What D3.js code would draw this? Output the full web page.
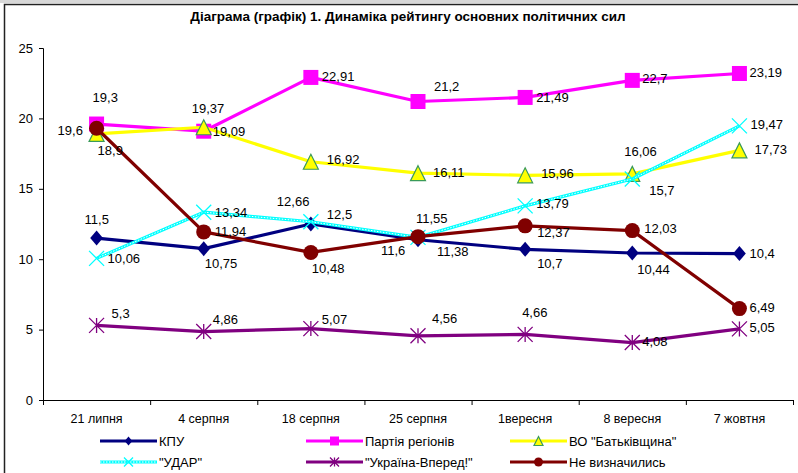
<!DOCTYPE html>
<html lang="uk">
<head>
<meta charset="utf-8">
<script src="https://d3js.org/d3.v7.min.js"></script>
<style>
  body { margin: 0; background: #fff; }
  text { font-family: "Liberation Sans", Arial, sans-serif; fill: #000; }
</style>
</head>
<body>
<div id="chart"></div>
<script>
// categories (poll dates)
var categories = ["21 липня", "4 серпня", "18 серпня", "25 серпня", "1вересня", "8 вересня", "7 жовтня"];

// series values, %
var kpu       = [11.5, 10.75, 12.5, 11.38, 10.7, 10.44, 10.4];
var regions   = [19.6, 19.09, 22.91, 21.2, 21.49, 22.7, 23.19];
var batk      = [18.9, 19.37, 16.92, 16.11, 15.96, 16.06, 17.73];
var udar      = [10.06, 13.34, 12.66, 11.55, 13.79, 15.7, 19.47];
var vpered    = [5.3, 4.86, 5.07, 4.56, 4.66, 4.08, 5.05];
var undecided = [19.3, 11.94, 10.48, 11.6, 12.37, 12.03, 6.49];

var seriesNames = ["КПУ", "Партія регіонів", "ВО \"Батьківщина\"", "\"УДАР\"", "\"Україна-Вперед!\"", "Не визначились"];
var yTicks = [0, 5, 10, 15, 20, 25];

// label placement (offset from point, px) -- hand adjusted like in the original
var labelOffsets = [
  [[-12,-19],[1,15],[16,-10],[19,12],[12,14],[5,16],[10,0]],
  [[-39,6],[9,0],[11,-1],[16,-15],[11,0],[10,-2],[10,-1]],
  [[1,17],[-12,-19],[16,-2],[15,-1],[16,-2],[-8,-22],[15,-1]],
  [[11,0],[11,0],[-34,-20],[-2,-19],[11,-2],[17,12],[11,-1]],
  [[15,-12],[9,-12],[11,-9],[14,-17],[-3,-22],[10,-1],[10,-1]],
  [[-4,-31],[11,0],[1,16],[-37,14],[12,7],[12,-2],[10,-1]]
];

var styles = [
  {color: "#000080", marker: "diamond"},
  {color: "#ff00ff", marker: "square"},
  {color: "#ffff00", marker: "triangle"},
  {color: "#00ffff", marker: "cross", dotted: true},
  {color: "#800080", marker: "star"},
  {color: "#800000", marker: "circle"}
];

var allValues = [kpu, regions, batk, udar, vpered, undecided];
var data = seriesNames.map(function(n, i) {
  return {name: n, values: allValues[i], style: styles[i], offs: labelOffsets[i]};
});

var width = 798, height = 473;
var plotL = 43, plotR = 793, plotT = 48, plotB = 400;

var svg = d3.select("#chart").append("svg")
  .attr("width", width).attr("height", height);

// frame
svg.append("rect").attr("x", 0).attr("y", 0).attr("width", width).attr("height", 3).attr("fill", "#d8d8d8");
svg.append("rect").attr("x", 4.5).attr("y", 4.5).attr("width", width + 10).attr("height", height + 10)
  .attr("fill", "none").attr("stroke", "#222").attr("stroke-width", 1.5);

svg.append("text").attr("x", 408).attr("y", 21).attr("text-anchor", "middle")
  .style("font-size", "13.5px").style("font-weight", "bold")
  .text("Діаграма (графік) 1. Динаміка рейтингу основних політичних сил");

var x = d3.scaleBand().domain(categories).range([plotL, plotR]).padding(0);
var y = d3.scaleLinear().domain([0, 25]).range([plotB, plotT]);
var cx = function(i) { return x(categories[i]) + x.bandwidth() / 2; };

// axes
var yAxis = d3.axisLeft(y).tickValues(yTicks).tickSize(4).tickPadding(6);
var gy = svg.append("g").attr("transform", "translate(" + plotL + ",0)").call(yAxis);
gy.selectAll("text").style("font-size", "13px");

var xAxis = d3.axisBottom(x).tickSize(0).tickPadding(14);
var gx = svg.append("g").attr("transform", "translate(0," + plotB + ")").call(xAxis);
gx.select(".domain").remove();
gx.selectAll("text").style("font-size", "12.5px");

var xTicks = d3.scaleLinear().domain([0, categories.length]).range([plotL, plotR]);
svg.append("g").attr("transform", "translate(0," + plotB + ")")
  .call(d3.axisBottom(xTicks).ticks(categories.length).tickFormat("").tickSize(5));

svg.selectAll(".domain").attr("stroke", "#000");

// markers
function drawMarker(g, type, color, s) {
  var h = s / 2;
  if (type === "diamond") {
    g.append("path").attr("d", "M0," + (-h) + "L" + (h * 0.85) + ",0L0," + h + "L" + (-h * 0.85) + ",0Z").attr("fill", color);
  } else if (type === "square") {
    g.append("rect").attr("x", -h).attr("y", -h).attr("width", s).attr("height", s).attr("fill", color);
  } else if (type === "triangle") {
    g.append("path").attr("d", "M0," + (-h) + "L" + h + "," + h + "L" + (-h) + "," + h + "Z")
      .attr("fill", color).attr("stroke", "#3a9a5a").attr("stroke-width", 1.2);
  } else if (type === "cross") {
    g.append("path").attr("d", "M" + (-h) + "," + (-h) + "L" + h + "," + h + "M" + h + "," + (-h) + "L" + (-h) + "," + h)
      .attr("stroke", color).attr("stroke-width", 1.3);
  } else if (type === "star") {
    g.append("path").attr("d", "M" + (-h) + "," + (-h) + "L" + h + "," + h + "M" + h + "," + (-h) + "L" + (-h) + "," + h + "M0," + (-h) + "L0," + h)
      .attr("stroke", color).attr("stroke-width", 1.3);
  } else if (type === "circle") {
    g.append("circle").attr("r", h).attr("fill", color);
  }
}

var line = d3.line().x(function(d, i) { return cx(i); }).y(function(d) { return y(d); });

data.forEach(function(s) {
  var g = svg.append("g");
  g.append("path").attr("d", line(s.values)).attr("fill", "none")
    .attr("stroke", s.style.color).attr("stroke-width", 3.2).attr("stroke-linejoin", "round");
  if (s.style.dotted) {
    g.append("path").attr("d", line(s.values)).attr("fill", "none")
      .attr("stroke", "#fff").attr("stroke-width", 1).attr("stroke-dasharray", "1.5,1.5");
  }
  s.values.forEach(function(v, i) {
    var m = g.append("g").attr("transform", "translate(" + cx(i) + "," + y(v) + ")");
    drawMarker(m, s.style.marker, s.style.color, 15);
  });
});

// data labels
data.forEach(function(s) {
  svg.append("g").selectAll("text").data(s.values).enter().append("text")
    .attr("x", function(d, i) { return cx(i) + s.offs[i][0]; })
    .attr("y", function(d, i) { return y(d) + s.offs[i][1]; })
    .attr("dy", "0.35em")
    .style("font-size", "13px")
    .text(function(d) { return String(d).replace(".", ","); });
});

// legend
var legX = [100, 306, 510], legY = [441, 462];
data.forEach(function(s, i) {
  var lx = legX[i % 3], ly = legY[Math.floor(i / 3)];
  var g = svg.append("g").attr("transform", "translate(" + lx + "," + ly + ")");
  g.append("line").attr("x1", 0).attr("x2", 57).attr("y1", 0).attr("y2", 0)
    .attr("stroke", s.style.color).attr("stroke-width", 3.2);
  if (s.style.dotted) {
    g.append("line").attr("x1", 0).attr("x2", 57).attr("y1", 0).attr("y2", 0)
      .attr("stroke", "#fff").attr("stroke-width", 1).attr("stroke-dasharray", "1.5,1.5");
  }
  var m = g.append("g").attr("transform", "translate(28.5,0)");
  drawMarker(m, s.style.marker, s.style.color, 9);
  g.append("text").attr("x", 59).attr("y", 0).attr("dy", "0.35em")
    .style("font-size", "13px").text(s.name);
});
</script>
</body>
</html>
